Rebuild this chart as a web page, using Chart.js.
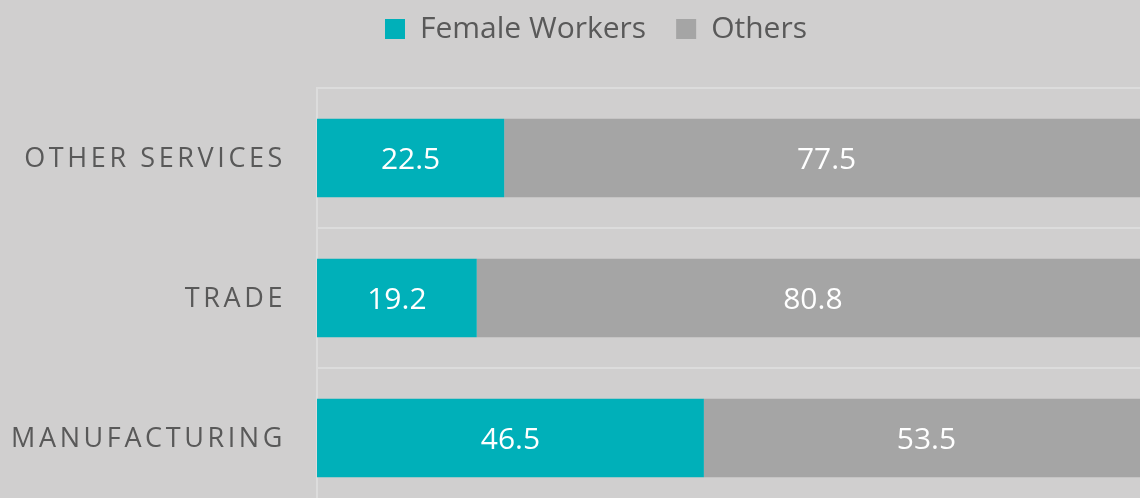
<!DOCTYPE html>
<html>
<head>
<meta charset="utf-8">
<script src="https://cdn.jsdelivr.net/npm/chart.js@4.4.1/dist/chart.umd.min.js"></script>
<style>
  html, body { margin: 0; padding: 0; background: #d0cfcf; overflow: hidden; }
  #wrap { position: relative; width: 1150px; height: 512px; }
</style>
</head>
<body>
<div id="wrap"><canvas id="grafico"></canvas></div>
<script>
const categorias = ['OTHER SERVICES', 'TRADE', 'MANUFACTURING'];
const femininas = [22.5, 19.2, 46.5];
const outros = [77.5, 80.8, 53.5];

const corTexto = '#595959';
const fonte = '"Open Sans", "Noto Sans", sans-serif';

// rotulos do eixo y com espacamento entre letras
const rotulosY = {
    id: 'rotulosY',
    afterDraw(chart) {
        const ctx = chart.ctx;
        const eixo = chart.scales.y;
        ctx.save();
        ctx.font = '27px ' + fonte;
        ctx.fillStyle = corTexto;
        ctx.textAlign = 'right';
        ctx.textBaseline = 'middle';
        ctx.letterSpacing = '3.6px';
        eixo.ticks.forEach((t, i) => {
            ctx.fillText(eixo.getLabelForValue(t.value), 286, eixo.getPixelForTick(i) + 1);
        });
        ctx.restore();
    }
};

// valores dentro das barras
const valoresBarras = {
    id: 'valoresBarras',
    afterDatasetsDraw(chart) {
        const ctx = chart.ctx;
        ctx.save();
        ctx.font = '30px ' + fonte;
        ctx.fillStyle = '#ffffff';
        ctx.textAlign = 'center';
        ctx.textBaseline = 'middle';
        chart.data.datasets.forEach((ds, d) => {
            chart.getDatasetMeta(d).data.forEach((bar, i) => {
                ctx.fillText(String(ds.data[i]), (bar.x + bar.base) / 2, bar.y + 2);
            });
        });
        ctx.restore();
    }
};

// ajuste da legenda
const ajusteLegenda = {
    id: 'ajusteLegenda',
    beforeInit(chart) {
        const lg = chart.legend;
        const fitOrig = lg.fit;
        lg.fit = function () {
            fitOrig.call(this);
            this.height = 88;
        };
    },
    afterLayout(chart) {
        chart.legend.top -= 16;
    }
};

new Chart(document.getElementById('grafico'), {
    type: 'bar',
    data: {
        labels: categorias,
        datasets: [
            { label: 'Female Workers', data: femininas, backgroundColor: '#00b0b9', borderWidth: 0 },
            { label: 'Others', data: outros, backgroundColor: '#a5a5a5', borderWidth: 0 }
        ]
    },
    options: {
        indexAxis: 'y',
        responsive: true,
        maintainAspectRatio: false,
        animation: false,
        layout: { padding: { left: 43, right: 1, top: 0, bottom: 4 } },
        datasets: { bar: { categoryPercentage: 1, barPercentage: 0.56 } },
        scales: {
            x: { stacked: true, display: false, min: 0, max: 100 },
            y: {
                stacked: true,
                ticks: { display: false },
                grid: { color: '#dcdcdc', lineWidth: 2, drawTicks: false, offset: true },
                border: { color: '#dcdcdc', width: 2 },
                afterFit(s) { s.width = 274; }
            }
        },
        plugins: {
            legend: {
                position: 'top',
                labels: {
                    color: corTexto,
                    font: { family: fonte, size: 30 },
                    boxWidth: 20,
                    boxHeight: 20,
                    padding: 30
                }
            },
            tooltip: { enabled: false }
        }
    },
    plugins: [rotulosY, valoresBarras, ajusteLegenda]
});
</script>
</body>
</html>
